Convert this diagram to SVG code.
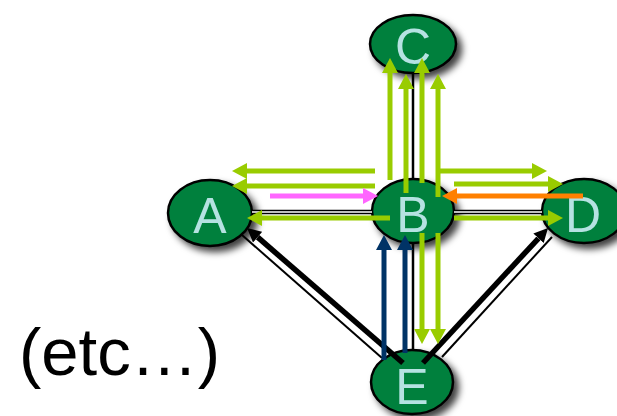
<svg xmlns="http://www.w3.org/2000/svg" width="617" height="416" viewBox="0 0 617 416">
<style>
.node ellipse{fill:#00803C;stroke:#000;stroke-width:2.5;filter:url(#sh)}
.node text{font-family:"Liberation Sans",Arial,sans-serif;font-size:50px;fill:#B5E2E2;text-anchor:middle}
.eo{stroke:#000;stroke-width:4.5;fill:none}
.ei{stroke:#fff;stroke-width:1.5;fill:none}
.ev{stroke:#000;stroke-width:2.5;fill:none}
.g{stroke:#99CC00;stroke-width:5;fill:none;marker-end:url(#mg)}
.p{stroke:#FF66FF;stroke-width:5;fill:none;marker-end:url(#mp)}
.o{stroke:#FF8000;stroke-width:5;fill:none;marker-end:url(#mo)}
.n{stroke:#003366;stroke-width:5;fill:none;marker-end:url(#mn)}
.k{stroke:#000;stroke-width:5.5;fill:none;marker-end:url(#mk)}
.t{stroke:#000;stroke-width:2;fill:none}
</style>
<defs>
<filter id="sh" x="-30%" y="-30%" width="170%" height="170%">
<feDropShadow dx="5" dy="5" stdDeviation="3.5" flood-color="#000" flood-opacity="0.75"/>
</filter>
<marker id="mg" markerUnits="userSpaceOnUse" viewBox="0 0 15 16" refX="0" refY="8" markerWidth="15" markerHeight="16" orient="auto"><path d="M0,0 L15,8 L0,16 z" fill="#99CC00"/></marker>
<marker id="mp" markerUnits="userSpaceOnUse" viewBox="0 0 15 16" refX="0" refY="8" markerWidth="15" markerHeight="16" orient="auto"><path d="M0,0 L15,8 L0,16 z" fill="#FF66FF"/></marker>
<marker id="mo" markerUnits="userSpaceOnUse" viewBox="0 0 15 16" refX="0" refY="8" markerWidth="15" markerHeight="16" orient="auto"><path d="M0,0 L15,8 L0,16 z" fill="#FF8000"/></marker>
<marker id="mn" markerUnits="userSpaceOnUse" viewBox="0 0 15 16" refX="0" refY="8" markerWidth="15" markerHeight="16" orient="auto"><path d="M0,0 L15,8 L0,16 z" fill="#003366"/></marker>
<marker id="mk" markerUnits="userSpaceOnUse" viewBox="0 0 14 14" refX="0" refY="7" markerWidth="14" markerHeight="14" orient="auto"><path d="M0,0 L14,7 L0,14 z" fill="#000"/></marker>
</defs>
<rect width="617" height="416" fill="#fff"/>
<g id="node-C" class="node"><ellipse cx="413" cy="44" rx="43" ry="29"/><text x="413" y="64">C</text></g>
<g id="node-A" class="node"><ellipse cx="210" cy="213" rx="42" ry="33"/><text x="210" y="233">A</text></g>
<g id="node-B" class="node"><ellipse cx="413" cy="211" rx="41" ry="32"/><text x="413" y="232">B</text></g>
<g id="node-D" class="node"><ellipse cx="584" cy="211" rx="42" ry="32"/><text x="583" y="232">D</text></g>
<g id="node-E" class="node"><ellipse cx="412" cy="382" rx="41" ry="32"/><text x="412" y="404">E</text></g>
<g id="connectors">
<line class="eo" x1="252" y1="212" x2="372" y2="212"/><line class="ei" x1="252" y1="212" x2="372" y2="212"/>
<line class="eo" x1="454" y1="212" x2="542" y2="212"/><line class="ei" x1="454" y1="212" x2="542" y2="212"/>
<line class="ev" x1="413" y1="72" x2="413" y2="179"/>
<line class="ev" x1="413" y1="243" x2="413" y2="351"/>
<line class="t" x1="242" y1="235" x2="382" y2="358"/>
<line class="k" x1="403" y1="363" x2="257.6" y2="237.2"/>
<line class="t" x1="442" y1="357" x2="552" y2="237"/>
<line class="k" x1="423" y1="363" x2="538.5" y2="238.3"/>
<line class="g" x1="390" y1="180" x2="390" y2="73"/>
<line class="g" x1="406" y1="193" x2="406" y2="89"/>
<line class="g" x1="422" y1="183" x2="422" y2="73"/>
<line class="g" x1="438" y1="197" x2="438" y2="89"/>
<line class="g" x1="375" y1="171" x2="247" y2="171"/>
<line class="g" x1="375" y1="186" x2="247" y2="186"/>
<line class="g" x1="390" y1="218" x2="262" y2="218"/>
<line class="g" x1="436" y1="171" x2="532" y2="171"/>
<line class="g" x1="454" y1="184" x2="548" y2="184"/>
<line class="g" x1="454" y1="218" x2="548" y2="218"/>
<line class="g" x1="422" y1="233" x2="422" y2="329"/>
<line class="g" x1="438" y1="233" x2="438" y2="329"/>
<line class="p" x1="270" y1="196" x2="363" y2="196"/>
<line class="o" x1="583" y1="196" x2="457" y2="196"/>
<line class="n" x1="384" y1="360" x2="384" y2="250"/>
<line class="n" x1="405" y1="353" x2="405" y2="250"/>
</g>
<text x="19" y="375" font-family="Liberation Sans, Arial, sans-serif" font-size="67" fill="#000">(etc…)</text>
</svg>
